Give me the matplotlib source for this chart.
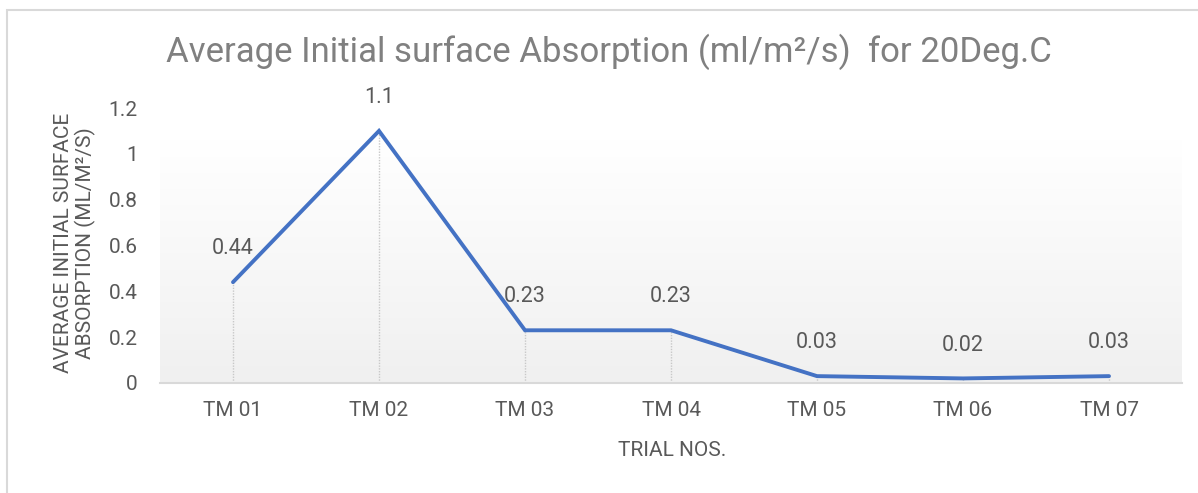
import numpy as np
import matplotlib.pyplot as plt
from matplotlib.patches import Rectangle
from matplotlib.colors import LinearSegmentedColormap

# data
trials = ['TM 01', 'TM 02', 'TM 03', 'TM 04', 'TM 05', 'TM 06', 'TM 07']
absorption = [0.44, 1.1, 0.23, 0.23, 0.03, 0.02, 0.03]
y_ticks = [0, 0.2, 0.4, 0.6, 0.8, 1, 1.2]
y_tick_labels = ['0', '0.2', '0.4', '0.6', '0.8', '1', '1.2']

plt.rcParams['font.family'] = ['Roboto', 'DejaVu Sans']
text_grey = '#595959'

W, H = 1198, 493
fig = plt.figure(figsize=(W / 100, H / 100), dpi=100)

# chart border (only top and left visible in the crop)
fig.patches.append(Rectangle((7 / W, -0.1), 1.2, (H - 10) / H + 0.1,
                             transform=fig.transFigure, fill=False,
                             edgecolor='#d9d9d9', linewidth=1.5))

ax = fig.add_axes([160 / W, 1 - 383 / H, 1022 / W, 275 / H])
x = np.arange(len(trials))

# plot area gradient: white at top to light grey at bottom
grad = np.linspace(1, 0, 256).reshape(-1, 1)
top_frac = (383 - 140) / 275
cmap = LinearSegmentedColormap.from_list('g', ['#f0f0f0', '#ffffff'])
ax.imshow(grad, extent=[-0.5, len(trials) - 0.5, 0, 1.2 * top_frac],
          aspect='auto', cmap=cmap, vmin=0, vmax=1, zorder=0)
ax.set_xlim(-0.5, len(trials) - 0.5)
ax.set_ylim(0, 1.2)

# drop lines
for xi, v in zip(x, absorption):
    ax.plot([xi, xi], [0, v], color='#c8c8c8', linestyle=(0, (1, 1)),
            linewidth=1, zorder=1)

ax.plot(x, absorption, color='#4472c4', linewidth=2.8, zorder=3,
        solid_capstyle='round', solid_joinstyle='miter')

for xi, v in zip(x, absorption):
    ax.annotate(f'{v:g}', (xi, v), xytext=(0, 24), textcoords='offset points',
                ha='center', va='center', fontsize=15.5, color=text_grey)

ax.set_xticks(x)
ax.set_xticklabels(trials)
ax.set_yticks(y_ticks)
ax.set_yticklabels(y_tick_labels)
ax.tick_params(axis='y', length=0, pad=16, labelsize=15, labelcolor=text_grey)
ax.tick_params(axis='x', length=0, pad=13, labelsize=15, labelcolor=text_grey)

for s in ['top', 'right', 'left']:
    ax.spines[s].set_visible(False)
ax.spines['bottom'].set_color('#d9d9d9')
ax.spines['bottom'].set_linewidth(1.5)

fig.text(609 / W, 1 - 52 / H,
         'Average Initial surface Absorption (ml/m²/s)  for 20Deg.C',
         ha='center', va='center', fontsize=25, color='#808080')
fig.text(75 / W, 1 - 243 / H, 'AVERAGE INITIAL SURFACE\nABSORPTION (ML/M²/S)',
         ha='center', va='center', rotation=90, fontsize=15, color=text_grey,
         linespacing=1.15)
fig.text(672 / W, 1 - 451 / H, 'TRIAL NOS.', ha='center', va='center',
         fontsize=15, color=text_grey)

fig.savefig('out.png', dpi=100, facecolor='white')
